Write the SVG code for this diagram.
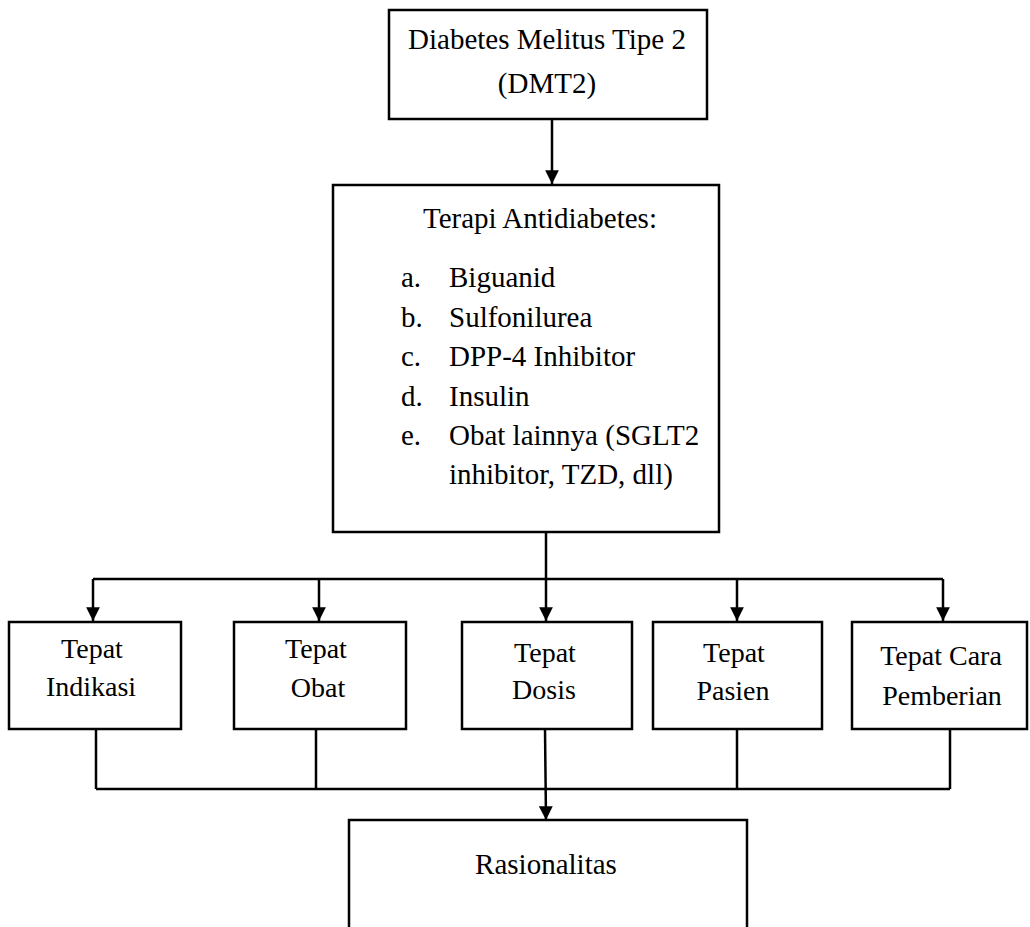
<svg xmlns="http://www.w3.org/2000/svg" width="1030" height="927" viewBox="0 0 1030 927">
<style>
.box{fill:#fff;stroke:#000;stroke-width:2.5}
.ln{fill:none;stroke:#000;stroke-width:2.5}
text{font-family:"Liberation Serif","Times New Roman",serif;fill:#000}
.t29{font-size:29px}
.t28{font-size:28px}
.c{text-anchor:middle}
</style>
<defs>
<marker id="ah" viewBox="0 0 10 10" refX="10" refY="5" markerWidth="5.5" markerHeight="5.5" orient="auto" markerUnits="strokeWidth">
<path d="M0,0 L10,5 L0,10 Z" fill="#000"/>
</marker>
</defs>
<rect width="1030" height="927" fill="#fff"/>
<g id="connectors">
<line class="ln" x1="552" y1="119" x2="552" y2="184" marker-end="url(#ah)"/>
<line class="ln" x1="546" y1="532" x2="546" y2="579"/>
<line class="ln" x1="93" y1="579" x2="943" y2="579"/>
<line class="ln" x1="93" y1="579" x2="93" y2="621" marker-end="url(#ah)"/>
<line class="ln" x1="319" y1="579" x2="319" y2="621" marker-end="url(#ah)"/>
<line class="ln" x1="546" y1="579" x2="546" y2="621" marker-end="url(#ah)"/>
<line class="ln" x1="737" y1="579" x2="737" y2="621" marker-end="url(#ah)"/>
<line class="ln" x1="943" y1="579" x2="943" y2="621" marker-end="url(#ah)"/>
<line class="ln" x1="96" y1="729" x2="96" y2="789"/>
<line class="ln" x1="316" y1="729" x2="316" y2="789"/>
<line class="ln" x1="737" y1="729" x2="737" y2="789"/>
<line class="ln" x1="950" y1="729" x2="950" y2="789"/>
<line class="ln" x1="96" y1="789" x2="950" y2="789"/>
<line class="ln" x1="545" y1="729" x2="546" y2="820" marker-end="url(#ah)"/>
</g>
<g id="node-dmt2">
<rect class="box" x="389" y="10" width="318" height="109"/>
<text class="t29 c" x="547" y="49">Diabetes Melitus Tipe 2</text>
<text class="t29 c" x="547" y="93">(DMT2)</text>
</g>
<g id="node-terapi">
<rect class="box" x="333" y="185" width="386" height="347"/>
<text class="t29 c" x="540" y="228">Terapi Antidiabetes:</text>
<text class="t29" x="401" y="287">a.</text><text class="t29" x="449" y="287">Biguanid</text>
<text class="t29" x="401" y="327">b.</text><text class="t29" x="449" y="327">Sulfonilurea</text>
<text class="t29" x="401" y="366">c.</text><text class="t29" x="449" y="366">DPP-4 Inhibitor</text>
<text class="t29" x="401" y="406">d.</text><text class="t29" x="449" y="406">Insulin</text>
<text class="t29" x="401" y="445">e.</text><text class="t29" x="449" y="445">Obat lainnya (SGLT2</text>
<text class="t29" x="449" y="484">inhibitor, TZD, dll)</text>
</g>
<g id="node-indikasi">
<rect class="box" x="9" y="622" width="172" height="107"/>
<text class="t28 c" x="92" y="658">Tepat</text>
<text class="t28 c" x="91" y="696">Indikasi</text>
</g>
<g id="node-obat">
<rect class="box" x="234" y="622" width="172" height="107"/>
<text class="t28 c" x="316" y="658">Tepat</text>
<text class="t28 c" x="318" y="697">Obat</text>
</g>
<g id="node-dosis">
<rect class="box" x="462" y="622" width="170" height="107"/>
<text class="t28 c" x="545" y="662">Tepat</text>
<text class="t28 c" x="544" y="699">Dosis</text>
</g>
<g id="node-pasien">
<rect class="box" x="653" y="622" width="169" height="107"/>
<text class="t28 c" x="734" y="662">Tepat</text>
<text class="t28 c" x="733" y="700">Pasien</text>
</g>
<g id="node-cara">
<rect class="box" x="852" y="622" width="175" height="107"/>
<text class="t28 c" x="941" y="665">Tepat Cara</text>
<text class="t28 c" x="942" y="705">Pemberian</text>
</g>
<g id="node-rasionalitas">
<rect class="box" x="349" y="820" width="398" height="120"/>
<text class="t29 c" x="546" y="874">Rasionalitas</text>
</g>
</svg>
